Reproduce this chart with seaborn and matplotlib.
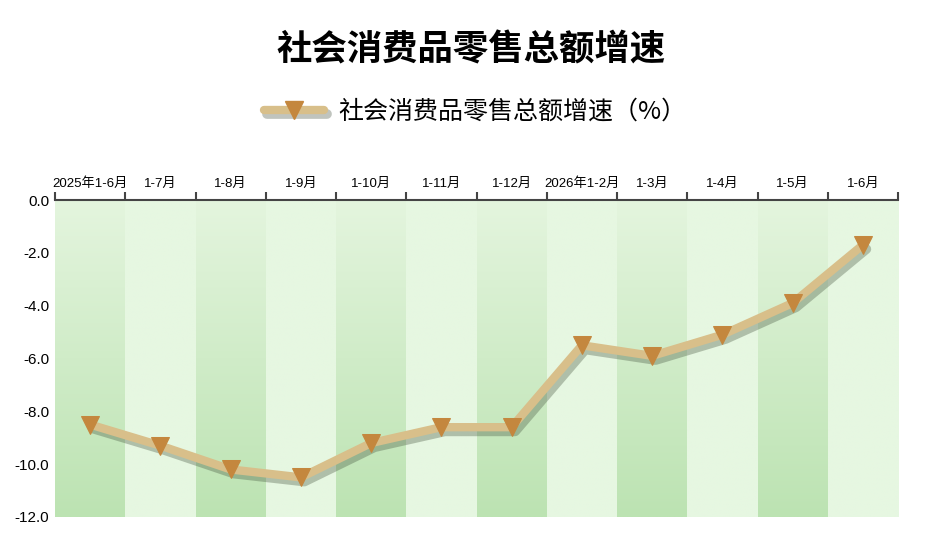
import numpy as np
import pandas as pd
import matplotlib
matplotlib.use("Agg")
import matplotlib.pyplot as plt
import matplotlib.patheffects as pe
from matplotlib.lines import Line2D
import seaborn as sns

sns.set_theme(style="white")
plt.rcParams["font.family"] = ["Liberation Sans", "Noto Sans CJK SC", "DejaVu Sans"]
plt.rcParams["text.color"] = "black"

months = ["2025年1-6月", "1-7月", "1-8月", "1-9月", "1-10月", "1-11月",
          "1-12月", "2026年1-2月", "1-3月", "1-4月", "1-5月", "1-6月"]
growth = [-8.5, -9.3, -10.2, -10.5, -9.2, -8.6, -8.6, -5.5, -5.9, -5.1, -3.9, -1.7]
y_ticks = [0.0, -2.0, -4.0, -6.0, -8.0, -10.0, -12.0]

title = "社会消费品零售总额增速"
series_name = "社会消费品零售总额增速（%）"

df = pd.DataFrame({"month": months, "growth": growth})

line_color = "#d8bf8a"
marker_color = "#c4873e"
shadow = [pe.SimpleLineShadow(offset=(2.5, -3), shadow_color="#3c4a35", alpha=0.32, linewidth=7),
          pe.Normal()]

fig = plt.figure(figsize=(9.28, 5.56), dpi=100)
ax = fig.add_axes([55 / 928, 1 - 517 / 556, 843 / 928, 317 / 556])

# striped background, darker columns fade towards the top
n = len(months)
grad = np.linspace(0, 1, 256).reshape(-1, 1, 1)
top_c = np.array([228, 245, 222]) / 255
bot_c = np.array([188, 227, 178]) / 255
light_c = np.array([230, 247, 225]) / 255
for i in range(n):
    if i % 2 == 0:
        img = top_c + (bot_c - top_c) * grad
    else:
        img = np.ones((256, 1, 3)) * light_c
    ax.imshow(img, extent=(i - 0.5, i + 0.5, -12, 0), aspect="auto",
              origin="upper", zorder=0, interpolation="bilinear")

sns.lineplot(data=df, x="month", y="growth", ax=ax, sort=False,
             color=line_color, linewidth=6, path_effects=shadow, zorder=3)
sns.lineplot(data=df, x="month", y="growth", ax=ax, sort=False,
             linestyle="", marker="v", markersize=13,
             markerfacecolor=marker_color, markeredgecolor=marker_color, zorder=4)

ax.set_xlim(-0.5, n - 0.5)
ax.set_ylim(-12, 0)
ax.set_xlabel("")
ax.set_ylabel("")

ax.xaxis.tick_top()
ax.set_xticks(range(n))
ax.set_xticklabels(months, fontsize=9.5)
ax.set_xticks(np.arange(-0.5, n, 1.0), minor=True)
ax.tick_params(axis="x", which="major", length=0, pad=7, colors="black")
ax.tick_params(axis="x", which="minor", length=6, width=1.5, color="#444444", top=True, bottom=False)
ax.set_yticks(y_ticks)
ax.set_yticklabels([f"{v:.1f}" for v in y_ticks], fontsize=11)
ax.tick_params(axis="y", length=0, pad=4, colors="black")

for s in ["left", "right", "bottom"]:
    ax.spines[s].set_visible(False)
ax.spines["top"].set_color("#444444")
ax.spines["top"].set_linewidth(1.5)
ax.spines["top"].set_zorder(5)
ax.grid(False)

fig.text(0.508, 1 - 50 / 556, title, ha="center", va="center", color="black",
         fontsize=25.5, fontweight="bold", family=["Noto Sans CJK SC"])

line_h = Line2D([], [], color=line_color, linewidth=6, path_effects=shadow)
marker_h = Line2D([], [], linestyle="", marker="v", markersize=13,
                  markerfacecolor=marker_color, markeredgecolor=marker_color)
fig.legend([(line_h, marker_h)], [series_name], loc="center",
           bbox_to_anchor=(0.512, 1 - 112 / 556),
           frameon=False, handlelength=2.4, handletextpad=0.6,
           prop={"family": ["Noto Sans CJK SC"], "size": 18})

fig.savefig("out.png", dpi=100)
